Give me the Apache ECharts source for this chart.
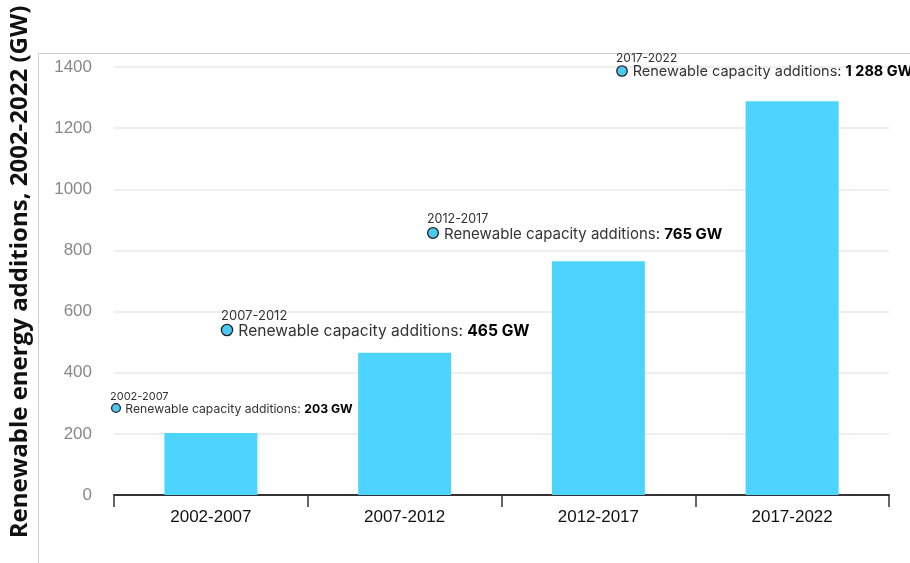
<!DOCTYPE html>
<html><head><meta charset="utf-8">
<script src="https://cdn.jsdelivr.net/npm/echarts@6/dist/echarts.min.js"></script>
<style>html,body{margin:0;padding:0;background:#fff}#c{width:910px;height:563px}</style>
</head><body><div id="c"></div>
<script>
const categories = ['2002-2007', '2007-2012', '2012-2017', '2017-2022'];
const additionsGW = [203, 465, 765, 1288];
const annotationValues = ['203 GW', '465 GW', '765 GW', '1 288 GW'];
const yTicks = [0, 200, 400, 600, 800, 1000, 1200, 1400];
const yTitle = 'Renewable energy additions, 2002-2022 (GW)';
const seriesLabel = 'Renewable capacity additions: ';

const chart = echarts.init(document.getElementById('c'));
const annFont = 'Inter, "Open Sans", sans-serif';
// layout of the four tooltip-like annotations: [x, dotY, mainFontSize, periodFontSize]
const annLayout = [[116, 408, 12.2, 11], [227, 330, 15.6, 13], [433, 233, 15, 12.5], [622, 71, 14.5, 12]];
const graphics = [
  {type:'rect', left:36, top:51, shape:{x:0,y:0,width:900,height:600}, style:{fill:'none', stroke:'#cfcfcf', lineWidth:1}, silent:true, z:-1},
  {type:'text', x:20, y:272, rotation:Math.PI/2, style:{text:yTitle, font:'bold 24px "Open Sans", sans-serif', fill:'#111', align:'center', verticalAlign:'middle'}}
];
annLayout.forEach((l, i) => {
  const [x, y, fs, pfs] = l;
  graphics.push({type:'circle', shape:{cx:x, cy:y, r:fs*0.36}, style:{fill:'#4cc9f0', stroke:'#222', lineWidth:1.3}, z:10});
  graphics.push({type:'text', x:x-6, y:y-fs*0.9, style:{text:categories[i], font:pfs+'px '+annFont, fill:'#333', align:'left', verticalAlign:'middle'}, z:10});
  graphics.push({type:'text', x:x+fs*0.6+2, y:y+1, style:{
    text:'{a|'+seriesLabel+'}{b|'+annotationValues[i]+'}',
    verticalAlign:'middle', align:'left',
    rich:{a:{fontFamily:annFont, fontSize:fs, fill:'#333', color:'#333'}, b:{fontFamily:annFont, fontSize:fs, fontWeight:'bold', color:'#111'}}
  }, z:10});
});

chart.setOption({
  animation:false,
  grid:{left:114, right:21, top:67, bottom:68},
  xAxis:{type:'category', data:categories,
    axisLine:{lineStyle:{color:'#333', width:2}},
    axisTick:{show:true, length:12, lineStyle:{color:'#333', width:1.5}},
    axisLabel:{color:'#111', fontSize:17, fontFamily:'"Liberation Sans", Arial, sans-serif', margin:14}},
  yAxis:{type:'value', min:yTicks[0], max:yTicks[yTicks.length-1], interval:200,
    axisLine:{show:false}, axisTick:{show:false},
    axisLabel:{color:'#888', fontSize:17, fontFamily:'"Liberation Sans", Arial, sans-serif', margin:22, formatter:v => String(v)},
    splitLine:{lineStyle:{color:'#e8e8e8', width:1.5}}},
  series:[{type:'bar', data:additionsGW, barWidth:'48%', itemStyle:{color:'#4cd4ff'}}],
  graphic:graphics
});
</script></body></html>
